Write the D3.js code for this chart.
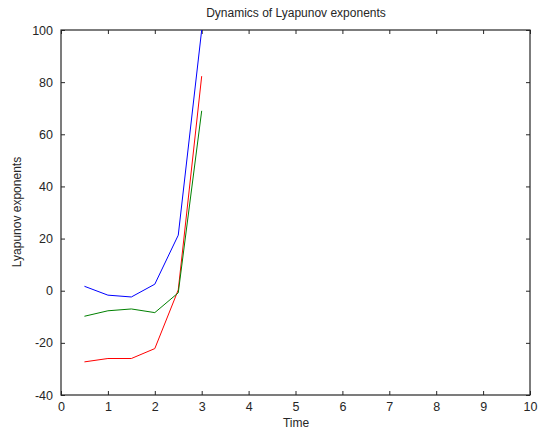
<!DOCTYPE html>
<html><head><meta charset="utf-8">
<script src="https://cdn.jsdelivr.net/npm/d3@7"></script>
<style>body{margin:0;background:#fff}svg{display:block}text{font-family:"Liberation Sans",Arial,sans-serif}</style>
</head><body>
<svg id="c" width="542" height="433"></svg>
<script>
const times = [0.5, 1, 1.5, 2, 2.5, 3];
const blueSeries = [1.7, -1.7, -2.4, 2.5, 21.3, 100];
const greenSeries = [-9.8, -7.7, -7.0, -8.4, -0.8, 69];
const redSeries = [-27.3, -26.0, -26.0, -22.2, 0.3, 82.3];
const xTicks = [0,1,2,3,4,5,6,7,8,9,10];
const yTicks = [-40,-20,0,20,40,60,80,100];
const series = [
  {name:"red", values: redSeries, color:"#ff0000"},
  {name:"green", values: greenSeries, color:"#008000"},
  {name:"blue", values: blueSeries, color:"#0000ff"}
];

const L=61, R=530, T=30, B=395;
const svg = d3.select("#c");
const x = d3.scaleLinear().domain([0,10]).range([L,R]);
const y = d3.scaleLinear().domain([-40,100]).range([B,T]);

svg.append("rect").attr("x",L).attr("y",T).attr("width",R-L).attr("height",B-T)
 .attr("fill","none").attr("stroke","#262626").attr("stroke-width",1.2);

const fmt = d => String(d);
const xb = d3.axisBottom(x).tickValues(xTicks).tickSize(-4).tickPadding(7).tickFormat(fmt);
const xt = d3.axisTop(x).tickValues(xTicks).tickSize(-4).tickFormat("");
const yl = d3.axisLeft(y).tickValues(yTicks).tickSize(-4).tickPadding(8).tickFormat(fmt);
const yr = d3.axisRight(y).tickValues(yTicks).tickSize(-4).tickFormat("");

function style(sel){
  sel.select(".domain").remove();
  sel.selectAll(".tick line").attr("stroke","#262626");
  sel.selectAll(".tick text").attr("fill","#262626").style("font-size","12.5px");
}
svg.append("g").attr("transform",`translate(0,${B})`).call(xb).call(style);
svg.append("g").attr("transform",`translate(0,${T})`).call(xt).call(style);
svg.append("g").attr("transform",`translate(${L},0)`).call(yl).call(style);
svg.append("g").attr("transform",`translate(${R},0)`).call(yr).call(style);

const line = d3.line().x((d,i)=>x(times[i])).y(d=>y(d));
series.forEach(s=>{
  svg.append("path").datum(s.values).attr("d",line).attr("fill","none")
    .attr("stroke",s.color).attr("stroke-width",1);
});

svg.append("text").attr("x",296).attr("y",17).attr("text-anchor","middle")
  .attr("fill","#262626").style("font-size","12px").text("Dynamics of Lyapunov exponents");
svg.append("text").attr("x",296).attr("y",427).attr("text-anchor","middle")
  .attr("fill","#262626").style("font-size","12px").text("Time");
svg.append("text").attr("transform","translate(21,212) rotate(-90)").attr("text-anchor","middle")
  .attr("fill","#262626").style("font-size","12px").text("Lyapunov exponents");
</script>
</body></html>
